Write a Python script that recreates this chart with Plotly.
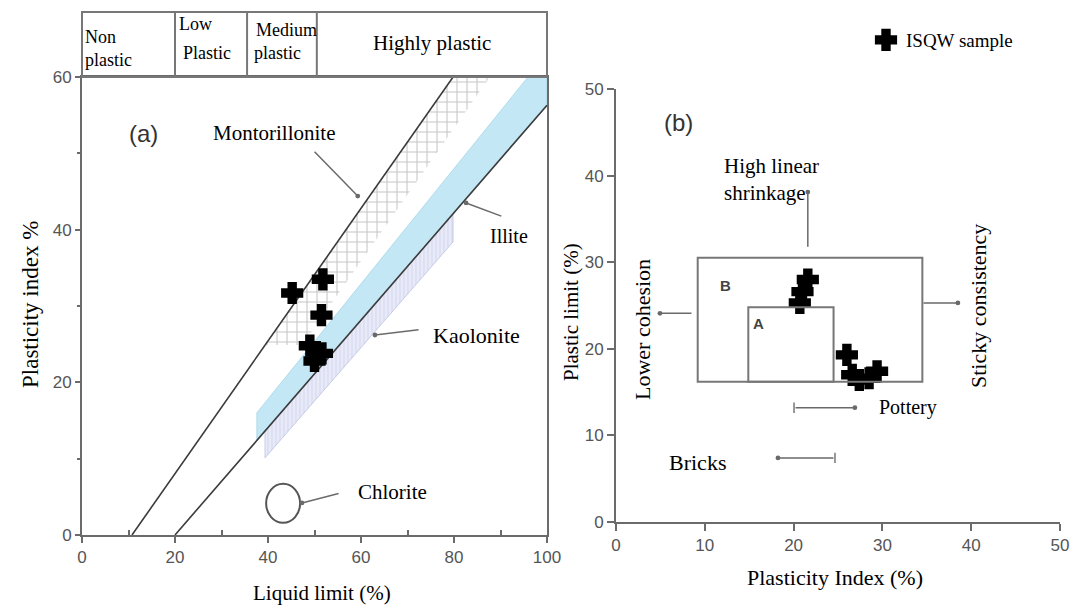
import plotly.graph_objects as go

W, H = 1072, 607

# ---------------- Panel (a): Casagrande-type chart ----------------
ll_samples = [45.2, 51.8, 51.5, 49.0, 51.6, 50.0]
pi_samples = [31.7, 33.5, 28.8, 24.8, 23.8, 22.8]

line1_ll = [10.75, 79.8]
line1_pi = [0, 60]
line2_ll = [20, 100]
line2_pi = [0, 56.3]

montmorillonite_ll = [39.4, 79.8, 87.7, 47.4, 39.4]
montmorillonite_pi = [24.9, 60, 60, 24.9, 24.9]
illite_ll = [37.6, 95.9, 100, 100, 37.6, 37.6]
illite_pi = [16.0, 60, 60, 56.3, 12.45, 16.0]
kaolinite_ll = [39.35, 79.8, 79.8, 39.35, 39.35]
kaolinite_pi = [13.6, 42.1, 38.4, 10.1, 13.6]
chlorite_ll = [39.6, 46.9]
chlorite_pi = [1.6, 6.7]

header_bounds = [0, 20, 35.5, 50.5, 100]

# ---------------- Panel (b): workability chart ----------------
pi_b = [21.6, 21.0, 20.7, 26.0, 26.6, 27.4, 28.5, 29.4]
pl_b = [28.0, 26.6, 25.3, 19.3, 17.0, 16.4, 16.6, 17.4]
box_b = [9.2, 34.5, 16.2, 30.5]
box_a = [14.9, 24.5, 16.2, 24.8]


def px(x):
    return x / W


def py(y):
    return 1 - y / H


SERIF = "Liberation Serif"
SANS = "Liberation Sans"

fig = go.Figure()

# illite band
fig.add_trace(go.Scatter(x=illite_ll, y=illite_pi, mode="lines", fill="toself",
                         fillcolor="#c3e7f4", line=dict(color="#a5d6e8", width=0.8),
                         hoverinfo="skip", showlegend=False, xaxis="x", yaxis="y"))
# kaolinite band
fig.add_trace(go.Scatter(x=kaolinite_ll, y=kaolinite_pi, mode="lines", fill="toself",
                         fillcolor="#e8eaf8",
                         fillpattern=dict(shape="|", fgcolor="#c4c9e6", bgcolor="#e8eaf8",
                                          size=4, solidity=0.3),
                         line=dict(color="#bcc3e2", width=0.8),
                         hoverinfo="skip", showlegend=False, xaxis="x", yaxis="y"))
# montmorillonite band (brick-like grid)
fig.add_trace(go.Scatter(x=montmorillonite_ll, y=montmorillonite_pi, mode="lines", fill="toself",
                         fillcolor="white",
                         fillpattern=dict(shape="+", fgcolor="#8c8c8c", bgcolor="white",
                                          size=10, solidity=0.2),
                         line=dict(color="rgba(0,0,0,0)", width=0),
                         hoverinfo="skip", showlegend=False, xaxis="x", yaxis="y"))
# boundary lines
fig.add_trace(go.Scatter(x=line1_ll, y=line1_pi, mode="lines", line=dict(color="#3a3a3a", width=1.6),
                         hoverinfo="skip", showlegend=False, xaxis="x", yaxis="y"))
fig.add_trace(go.Scatter(x=line2_ll, y=line2_pi, mode="lines", line=dict(color="#3a3a3a", width=1.6),
                         hoverinfo="skip", showlegend=False, xaxis="x", yaxis="y"))

marker_style = dict(symbol="cross", size=16, color="black", line=dict(color="black", width=3))

fig.add_trace(go.Scatter(x=ll_samples, y=pi_samples, mode="markers", marker=marker_style,
                         showlegend=False, xaxis="x", yaxis="y"))

# panel (b) samples
fig.add_trace(go.Scatter(x=pi_b, y=pl_b, mode="markers", marker=marker_style,
                         name="ISQW sample", showlegend=True, xaxis="x2", yaxis="y2"))

shapes = []
# chlorite circle
shapes.append(dict(type="circle", xref="x", yref="y", x0=chlorite_ll[0], x1=chlorite_ll[1],
                   y0=chlorite_pi[0], y1=chlorite_pi[1], line=dict(color="#555", width=2)))

# header table above panel (a)
hdr_top, hdr_bot = py(12), py(77)
xa0, xa1 = px(82), px(547)
shapes.append(dict(type="rect", xref="paper", yref="paper", x0=xa0, x1=xa1, y0=hdr_bot, y1=hdr_top,
                   line=dict(color="#777", width=2)))
for b in header_bounds[1:-1]:
    xb = xa0 + (xa1 - xa0) * b / 100
    shapes.append(dict(type="line", xref="paper", yref="paper", x0=xb, x1=xb, y0=hdr_bot, y1=hdr_top,
                       line=dict(color="#777", width=2)))

# boxes in panel (b)
for bx in (box_b, box_a):
    shapes.append(dict(type="rect", xref="x2", yref="y2", x0=bx[0], x1=bx[1], y0=bx[2], y1=bx[3],
                       line=dict(color="#777", width=2)))

# small end bars for pottery / bricks arrows
shapes.append(dict(type="line", xref="x2", yref="y2", x0=20.05, x1=20.05, y0=12.6, y1=13.8,
                   line=dict(color="#777", width=1.5)))
shapes.append(dict(type="line", xref="x2", yref="y2", x0=24.66, x1=24.66, y0=6.8, y1=8.0,
                   line=dict(color="#777", width=1.5)))

ann = []


def text(t, x, y, size=21, family=SERIF, color="black", xanchor="center", angle=0, bold=False):
    if bold:
        t = "<b>" + t + "</b>"
    ann.append(dict(text=t, x=px(x), y=py(y), xref="paper", yref="paper", showarrow=False,
                    xanchor=xanchor, yanchor="middle", textangle=angle,
                    font=dict(family=family, size=size, color=color)))


def arrow(x, y, ax, ay, xr, yr):
    ann.append(dict(text="", x=x, y=y, ax=ax, ay=ay, xref=xr, yref=yr, axref=xr, ayref=yr,
                    showarrow=True, arrowhead=6, arrowsize=0.8, arrowwidth=1.5,
                    arrowcolor="#6a6a6a", standoff=0, startstandoff=0))


# header texts
text("Non", 83, 37, 18, xanchor="left")
text("plastic", 83, 60, 18, xanchor="left")
text("Low", 177, 24, 18, xanchor="left")
text("Plastic", 181, 53, 18, xanchor="left")
text("Medium", 254, 30, 18, xanchor="left")
text("plastic", 252, 53, 18, xanchor="left")
text("Highly plastic", 432, 43, 21)

# panel (a) texts
text("(a)", 143, 133, 24, family=SANS, color="#333")
text("Montorillonite", 274, 133, 21)
text("Illite", 509, 236, 20)
text("Kaolonite", 476, 335, 22)
text("Chlorite", 392, 492, 21)
text("Plasticity index %", 30, 305, 23, angle=-90)
text("Liquid limit (%)", 322, 593, 21)

arrow(59.3, 44.4, 49.7, 50.4, "x", "y")
arrow(82.6, 43.5, 90.5, 41.7, "x", "y")
arrow(63.0, 26.2, 72.7, 26.9, "x", "y")
arrow(47.3, 4.2, 55.5, 5.5, "x", "y")

# panel (b) texts
text("(b)", 678, 122, 24, family=SANS, color="#333")
text("High linear", 722, 166, 21, xanchor="left")
text("shrinkage", 722, 193, 21, xanchor="left")
text("Lower cohesion", 642, 330, 22, angle=-90)
text("Sticky consistency", 978, 306, 22, angle=-90)
text("Pottery", 877, 407, 20, xanchor="left")
text("Bricks", 667, 463, 22, xanchor="left")
text("B", 725, 286, 15, family=SANS, color="#444", bold=True)
text("A", 758, 323, 15, family=SANS, color="#444", bold=True)
text("Plastic limit (%)", 571, 312, 21, angle=-90)
text("Plasticity Index (%)", 835, 577, 22)

arrow(21.6, 38.1, 21.6, 31.6, "x2", "y2")
arrow(4.95, 24.1, 8.67, 24.1, "x2", "y2")
arrow(38.5, 25.3, 34.46, 25.3, "x2", "y2")
arrow(26.9, 13.2, 20.05, 13.2, "x2", "y2")
arrow(18.24, 7.4, 24.66, 7.4, "x2", "y2")

axis_common = dict(showgrid=False, zeroline=False, showline=True, linecolor="#6b6b6b", linewidth=2,
                   tickcolor="#6b6b6b", tickwidth=1.5, ticks="outside",
                   tickfont=dict(family=SANS, size=17, color="#555"), automargin=False, fixedrange=True)

fig.update_layout(
    width=W, height=H, margin=dict(l=0, r=0, t=0, b=0),
    paper_bgcolor="white", plot_bgcolor="white",
    shapes=shapes, annotations=ann,
    xaxis=dict(domain=[px(82), px(547)], range=[0, 100], tickvals=[0, 20, 40, 60, 80, 100], ticklen=6,
               minor=dict(tickvals=[10, 30, 50, 70, 90], ticks="inside", ticklen=5, tickcolor="#6b6b6b"),
               mirror=True, anchor="y", **axis_common),
    yaxis=dict(domain=[py(535), py(77)], range=[0, 60], tickvals=[0, 20, 40, 60], ticklen=5,
               minor=dict(tickvals=[10, 30, 50], ticks="outside", ticklen=3, tickcolor="#6b6b6b"),
               mirror=True, anchor="x", **axis_common),
    xaxis2=dict(domain=[px(616), px(1060)], range=[0, 50], dtick=10, ticklen=7, anchor="y2", **axis_common),
    yaxis2=dict(domain=[py(522), py(89)], range=[0, 50], dtick=10, ticklen=7, anchor="x2", **axis_common),
    legend=dict(x=px(866), y=py(40), xanchor="left", yanchor="middle", bgcolor="rgba(0,0,0,0)",
                font=dict(family=SERIF, size=19, color="black")),
)

fig.write_html("out.html", config={"displayModeBar": False},
               post_script="document.body.style.margin='0';document.body.style.overflow='hidden';")
